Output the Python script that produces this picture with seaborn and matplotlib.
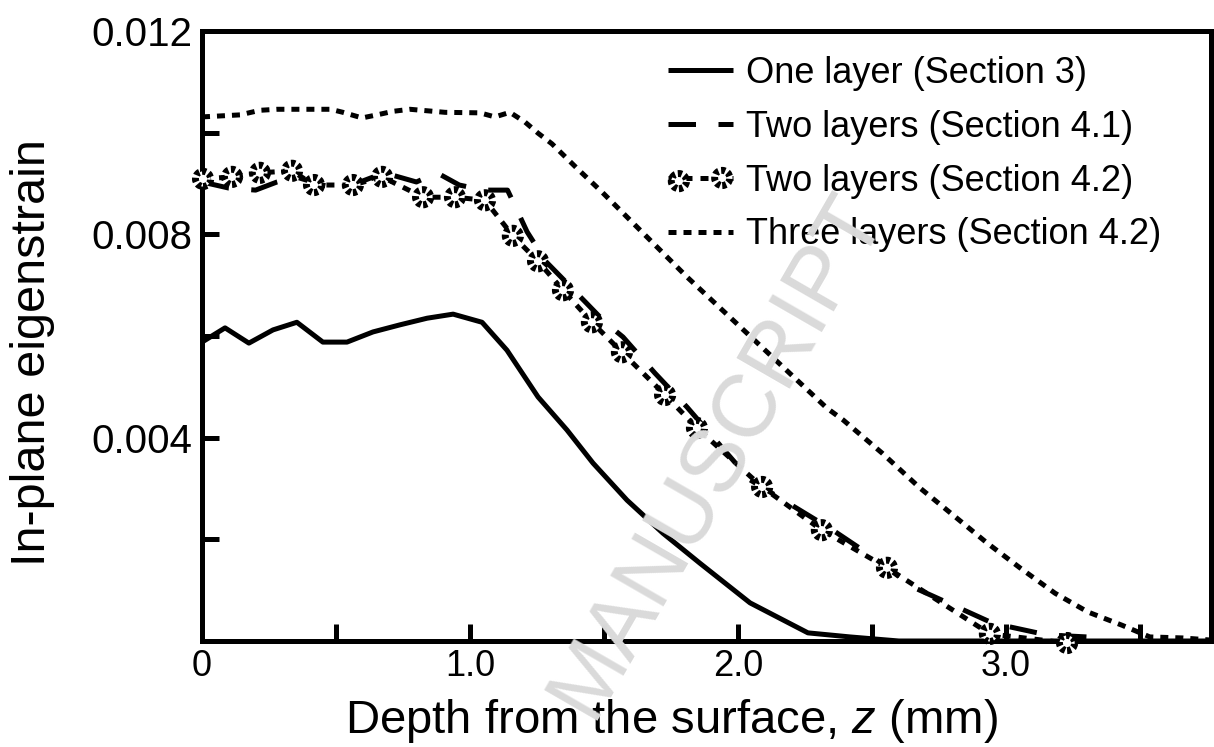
import numpy as np
import pandas as pd
import matplotlib
matplotlib.use("Agg")
import matplotlib.pyplot as plt
import seaborn as sns
from matplotlib.legend_handler import HandlerTuple

# ---------------- data ----------------
one_x = [0.0, 0.086, 0.175, 0.265, 0.354, 0.451, 0.541, 0.638, 0.739, 0.840, 0.937, 1.045, 1.138,
         1.254, 1.362, 1.459, 1.586, 1.72, 1.858, 2.045, 2.261, 2.418, 2.6, 3.76]
one_y = [0.00588, 0.00616, 0.00586, 0.00612, 0.00627, 0.00588, 0.00588, 0.00608, 0.00622, 0.00635,
         0.00643, 0.00627, 0.00572, 0.00480, 0.00415, 0.00350, 0.00277, 0.00212, 0.00153, 0.00075,
         0.00016, 0.00008, 0.0, 0.0]

two41_x = [0.0, 0.10, 0.20, 0.28, 0.35, 0.45, 0.50, 0.60, 0.68, 0.80, 0.877, 0.96, 1.05, 1.14,
           1.175, 1.213, 1.284, 1.351, 1.504, 1.571, 1.69, 1.81, 1.925, 2.045, 2.354, 2.504,
           2.653, 2.817, 2.951, 3.153, 3.302, 3.35]
two41_y = [0.00903, 0.00891, 0.00887, 0.00903, 0.00913, 0.00897, 0.00891, 0.00905, 0.00921,
           0.00903, 0.00921, 0.00897, 0.00887, 0.00887, 0.00848, 0.00805, 0.00746, 0.00710,
           0.00627, 0.00598, 0.00527, 0.00460, 0.00390, 0.00317, 0.00218, 0.00165, 0.00106,
           0.00067, 0.00035, 0.00012, 0.00008, 0.0]

two42_x = [0.004, 0.112, 0.216, 0.336, 0.418, 0.563, 0.672, 0.825, 0.944, 1.056, 1.160, 1.254,
           1.347, 1.455, 1.567, 1.728, 1.847, 2.090, 2.313, 2.556, 2.940, 3.228]
two42_y = [0.00909, 0.00913, 0.00921, 0.00925, 0.00897, 0.00897, 0.00913, 0.00873, 0.00873,
           0.00867, 0.00797, 0.00747, 0.00690, 0.00627, 0.00568, 0.00484, 0.00419, 0.00303,
           0.00218, 0.00144, 0.00014, -0.00004]

three_x = [0.0, 0.142, 0.216, 0.28, 0.48, 0.526, 0.597, 0.653, 0.713, 0.776, 0.907, 1.037, 1.093,
           1.149, 1.205, 1.254, 1.306, 1.399, 1.493, 1.586, 1.679, 1.772, 1.81, 2.332, 2.392,
           2.537, 2.679, 2.802, 2.929, 3.052, 3.183, 3.306, 3.433, 3.537, 3.66, 3.76]
three_y = [0.01031, 0.01035, 0.01044, 0.01046, 0.01046, 0.01040, 0.01029, 0.01035, 0.01042,
           0.01046, 0.01040, 0.01039, 0.01031, 0.01040, 0.01021, 0.00999, 0.00978, 0.00930,
           0.00883, 0.00834, 0.00785, 0.00736, 0.00716, 0.00458, 0.00435, 0.00370, 0.00301,
           0.00248, 0.00193, 0.00144, 0.00094, 0.00057, 0.00031, 0.00008, 0.00006, 0.00002]

labels = ["One layer (Section 3)", "Two layers (Section 4.1)",
          "Two layers (Section 4.2)", "Three layers (Section 4.2)"]

x_ticks = [0.0, 0.5, 1.0, 1.5, 2.0, 2.5, 3.0, 3.5]
x_ticklabels = ["0", "", "1.0", "", "2.0", "", "3.0", ""]
y_ticks = [0.002, 0.004, 0.006, 0.008, 0.010, 0.012]
y_ticklabels = ["", "0.004", "", "0.008", "", "0.012"]

# ---------------- style ----------------
sns.set_style("ticks")
plt.rcParams["font.family"] = ["Liberation Sans", "DejaVu Sans"]
plt.rcParams["mathtext.fontset"] = "custom"
plt.rcParams["mathtext.it"] = "Liberation Sans:italic"
plt.rcParams["mathtext.rm"] = "Liberation Sans"
plt.rcParams["text.color"] = "black"
plt.rcParams["axes.labelcolor"] = "black"
plt.rcParams["xtick.color"] = "black"
plt.rcParams["ytick.color"] = "black"

W, H = 1214, 747
fig = plt.figure(figsize=(W / 100, H / 100), dpi=100)
ax = fig.add_axes([202 / W, (H - 641) / H, (1211 - 202) / W, (641 - 31) / H])

LW = 3.6
# watermark
fig.text(718 / W, (H - 455) / H, "MANUSCRIPT", rotation=60, color="#dadada",
         fontsize=64, ha="center", va="center", zorder=0)
ax.set_facecolor("none")

sns.lineplot(x=one_x, y=one_y, ax=ax, color="black", linewidth=LW, linestyle="-",
             sort=False, solid_capstyle="butt")
l1 = ax.lines[-1]
sns.lineplot(x=two41_x, y=two41_y, ax=ax, color="black", linewidth=LW,
             linestyle=(0, (5.5, 4.5)), sort=False)
l2 = ax.lines[-1]
sns.lineplot(x=two42_x, y=two42_y, ax=ax, color="black", linewidth=LW,
             linestyle=(0, (1.6, 1.6)), sort=False)
l3 = ax.lines[-1]
sc = ax.scatter(two42_x, two42_y, s=120, facecolors="white", edgecolors="black",
                linewidths=5, linestyles=(0, (0.6, 0.4)), zorder=5, clip_on=False)
sns.lineplot(x=three_x, y=three_y, ax=ax, color="black", linewidth=LW,
             linestyle=(0, (1.6, 1.4)), sort=False)
l4 = ax.lines[-1]

ax.set_xlim(0, 3.765)
ax.set_ylim(0, 0.012)
ax.set_xticks(x_ticks)
ax.set_xticklabels(x_ticklabels)
ax.set_yticks(y_ticks)
ax.set_yticklabels(y_ticklabels)
ax.tick_params(axis="both", direction="in", length=12, width=LW,
               color="black", labelcolor="black")
ax.tick_params(axis="x", pad=6, labelsize=26)
ax.tick_params(axis="y", pad=7, labelsize=29)
for s in ax.spines.values():
    s.set_visible(True)
    s.set_linewidth(LW)
    s.set_color("black")

ax.set_xlabel("Depth from the surface, $z$ (mm)", fontsize=34, va="baseline", color="black")
ax.xaxis.set_label_coords((671.5 - 202) / 1009, (641 - 733) / 610)
ax.set_ylabel("In-plane eigenstrain", fontsize=35, va="center", color="black")
ax.yaxis.set_label_coords((33 - 202) / 1009, (641 - 353) / 610)

leg = ax.legend([l1, l2, (l3, sc), l4], labels,
                handler_map={tuple: HandlerTuple(ndivide=1)},
                loc="upper right", bbox_to_anchor=(1179 / W, (H - 38) / H),
                bbox_transform=fig.transFigure, frameon=False, fontsize=26,
                handlelength=1.8, handletextpad=0.35, labelspacing=0.52,
                borderpad=0, scatterpoints=2, labelcolor="black")

fig.savefig("out.png", dpi=100)
